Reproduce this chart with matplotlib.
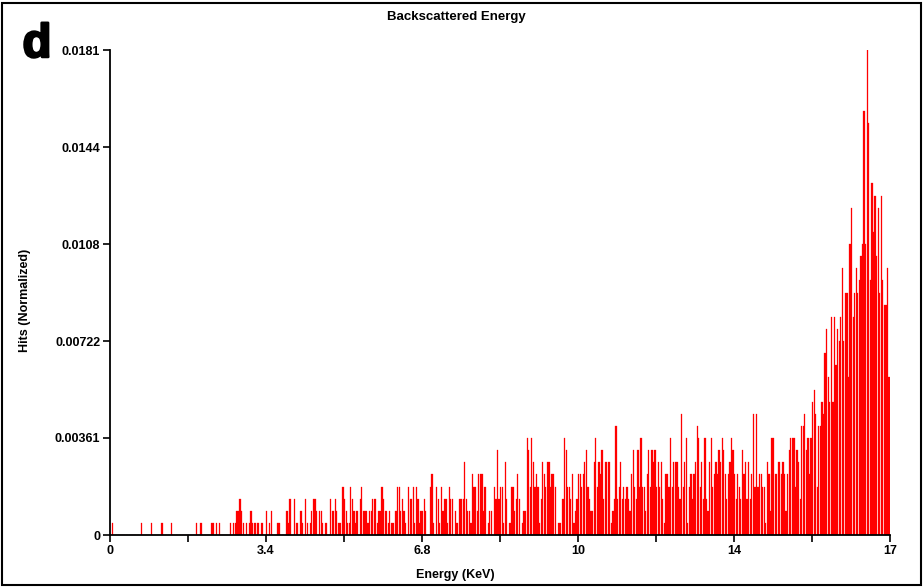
import matplotlib
matplotlib.use("Agg")
import matplotlib.pyplot as plt
import matplotlib.patheffects as pe
import numpy as np
from matplotlib.patches import Rectangle
from matplotlib.ticker import FixedLocator

plt.rcParams['font.family'] = ['Liberation Sans Narrow', 'Liberation Sans', 'DejaVu Sans']

# Energy range and binning (500 bins from 0 to 17 keV)
E_MIN, E_MAX, N_BINS = 0.0, 17.0, 500
# value of one hit after normalisation (peak bin = 40 hits = 0.01805)
HIT_UNIT = 0.01805 / 40

# hit counts per bin, in energy order
counts_0_34 = [0,1,0,0,0,0,0,0,0,0,
               0,0,0,0,0,0,0,0,0,0,
               1,0,0,0,0,0,1,0,0,0,
               0,0,0,1,0,0,0,0,0,1,
               0,0,0,0,0,0,0,0,0,0,
               0,0,0,0,0,1,0,0,1,0,
               0,0,0,0,0,1,1,0,1,0,
               1,0,0,0,0,0,0,1,0,1,
               1,2,2,3,2,1,0,1,0,1,
               2,1,1,1,1,1,0,1,0,0]
counts_34_66 = [2,0,1,2,0,0,0,1,1,0,
                0,0,0,2,1,3,0,0,3,1,
                1,0,2,1,0,3,1,0,1,2,
                3,3,2,0,2,2,1,0,1,0,
                0,3,2,2,3,2,1,1,0,4,
                3,2,1,1,4,3,2,1,2,0,
                3,4,2,2,2,1,2,2,3,3,
                3,1,2,2,4,3,2,2,1,2,
                1,1,0,2,4,4,2,3,2,1,
                0,4,3]
counts_66_100 = [3,4,1,4,3,1,2,2,3,2,
                 0,0,4,5,1,0,4,3,1,4,
                 2,3,3,1,4,3,3,0,2,1,
                 0,3,3,3,6,3,2,2,1,5,
                 4,4,2,5,5,5,2,4,0,1,
                 2,2,0,4,3,7,3,4,4,1,
                 6,3,0,1,4,4,2,3,5,3,
                 0,1,2,2,8,7,4,8,6,4,
                 5,4,1,3,6,5,4,6,6,4,
                 5,5,4,0,1,1,0,3,8,7,
                 4]
counts_100_135 = [4,3,5,1,2,3,5,5,4,5,
                  6,7,4,3,2,2,6,8,4,6,
                  5,7,3,6,6,6,6,1,2,3,
                  9,3,4,6,3,4,3,4,3,2,
                  5,7,4,3,7,4,8,4,4,2,
                  5,7,4,7,6,7,4,6,4,6,
                  3,1,5,5,4,8,4,6,6,6,
                  4,3,10,4,6,8,1,4,5,3,
                  5,6,9,8,4,6,3,8,3,2,
                  6,8,4,5,6,5,7,6,8,7,
                  5,3,5]
counts_135_155 = [6,8,7,5,3,5,4,3,7,5,
                  6,3,6,3,5,10,4,10,4,5,
                  5,4,4,1,6,5,2,8,8,5,
                  5,6,6,5,6,5,2,5,7,8,
                  8,8,4,7,6,3,9,9,10,7,
                  8,5,8,11,12,10,4,9]
counts_155_170 = [9,11,10,15,17,13,11,18,11,18,
                  14,17,16,18,22,16,20,20,13,24,
                  27,18,20,22,20,21,23,24,35,24,
                  40,34,21,29,25,28,23,27,20,28,
                  21,19,19,22,13]

x_ticks = [0, 3.4, 6.8, 10.2, 13.6, 17]
x_tick_labels = ["0", "3.4", "6.8", "10", "14", "17"]
x_minor_ticks = [1.7, 5.1, 8.5, 11.9, 15.3]
y_ticks = [0, 0.00361, 0.00722, 0.01083, 0.01444, 0.01805]
y_tick_labels = ["0", "0.00361", "0.00722", "0.0108", "0.0144", "0.0181"]

counts = np.array(counts_0_34 + counts_34_66 + counts_66_100 +
                  counts_100_135 + counts_135_155 + counts_155_170)
edges = np.linspace(E_MIN, E_MAX, N_BINS + 1)
bw = edges[1] - edges[0]
hits = counts * HIT_UNIT

W, H = 924, 587
fig = plt.figure(figsize=(W / 100, H / 100), dpi=100)
ax = fig.add_axes([110 / W, 1 - 535 / H, 780 / W, 485 / H])

ax.bar(edges[:-1], hits, width=bw * 0.8, align='edge', color='#ff0000',
       edgecolor='#ff0000', linewidth=0.2)

ax.set_xlim(E_MIN, E_MAX)
ax.set_ylim(0, 0.01805)
ax.set_xticks(x_ticks)
ax.set_xticklabels(x_tick_labels)
ax.xaxis.set_minor_locator(FixedLocator(x_minor_ticks))
ax.set_yticks(y_ticks)
ax.set_yticklabels(y_tick_labels)

for s in ['top', 'right']:
    ax.spines[s].set_visible(False)
for s in ['left', 'bottom']:
    ax.spines[s].set_linewidth(1.3)
    ax.spines[s].set_color('black')

ax.tick_params(axis='both', which='major', direction='out', length=5,
               width=1.2, labelsize=9, pad=2)
ax.tick_params(axis='x', which='minor', direction='out', length=5, width=1.2)
for lab in ax.get_xticklabels() + ax.get_yticklabels():
    lab.set_fontweight('bold')

ax.set_xlabel("Energy (KeV)", fontsize=9, fontweight='bold')
ax.set_ylabel("Hits (Normalized)", fontsize=9, fontweight='bold')
ax.xaxis.set_label_coords((455 - 110) / 780, -(569 - 535) / 485)
ax.yaxis.set_label_coords(-(110 - 31) / 780, (535 - 300) / 485)

fig.text(456 / W, 1 - 17 / H, "Backscattered Energy", ha='center', va='center',
         fontsize=9.5, fontweight='bold')
fig.text(37 / W, 1 - 45 / H, "d", ha='center', va='center', fontsize=34,
         fontweight='bold', family=['Liberation Sans', 'DejaVu Sans'],
         path_effects=[pe.withStroke(linewidth=1.8, foreground='black')])

fig.patches.append(Rectangle((2 / W, 2 / H), 1 - 5 / W, 1 - 5 / H,
                             transform=fig.transFigure, fill=False,
                             edgecolor='black', linewidth=1.5))

fig.savefig("out.png", dpi=100)
